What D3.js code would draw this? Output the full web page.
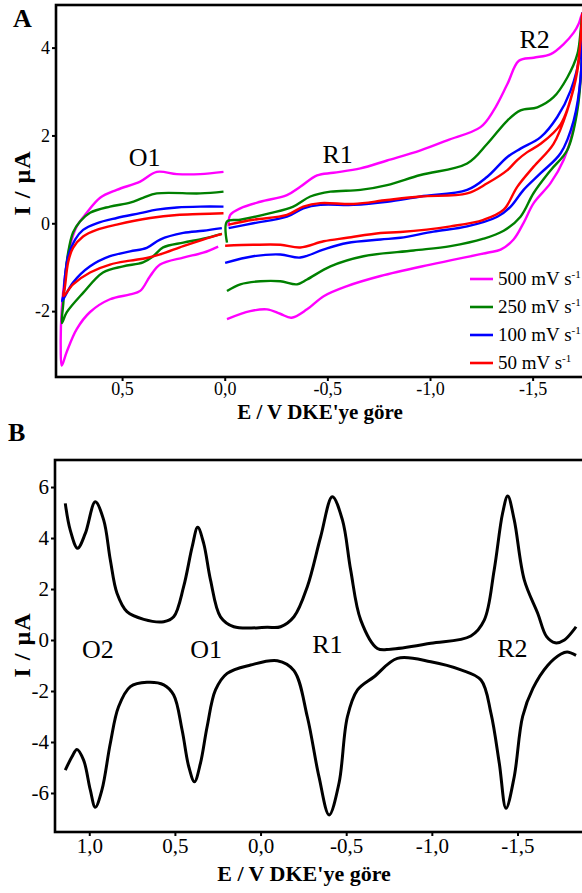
<!DOCTYPE html>
<html>
<head>
<meta charset="utf-8">
<script src="https://cdn.jsdelivr.net/npm/d3@7"></script>
<style>
  body { margin: 0; background: #fff; }
  svg { display: block; }
  text { font-family: "Liberation Serif", "Times New Roman", serif; fill: #000; }
</style>
</head>
<body>
<div id="chart"></div>
<script>
// ---- data (E in V, I in µA) ----
const scanRates = ["500 mV s", "250 mV s", "100 mV s", "50 mV s"];
const rateColors = ["#ff00ff", "#008000", "#0000ff", "#ff0000"];

// panel A, positive-potential scans (upper branch then lower branch)
const m500Pos = [[0.006,1.17],[0.12,1.12],[0.233,1.12],[0.331,1.17],[0.412,0.95],[0.526,0.76],[0.607,0.58],[0.672,0.24],[0.721,-0.07],[0.754,-0.52],[0.778,-1.20],[0.794,-1.96],[0.799,-2.79],[0.794,-3.24],[0.77,-2.93],[0.721,-2.41],[0.656,-2.02],[0.559,-1.73],[0.461,-1.62],[0.412,-1.54],[0.363,-1.20],[0.315,-0.94],[0.202,-0.78],[0.105,-0.67],[0.032,-0.53]];
const g250Pos = [[0.006,0.72],[0.12,0.68],[0.331,0.68],[0.398,0.58],[0.461,0.47],[0.559,0.38],[0.656,0.24],[0.705,0.04],[0.739,-0.21],[0.763,-0.67],[0.778,-1.28],[0.786,-1.80],[0.793,-2.27],[0.77,-2.03],[0.689,-1.58],[0.593,-1.12],[0.495,-0.98],[0.398,-0.89],[0.349,-0.75],[0.3,-0.55],[0.202,-0.44],[0.105,-0.35],[0.014,-0.24]];
const b100Pos = [[0.006,0.38],[0.12,0.38],[0.233,0.36],[0.331,0.31],[0.412,0.23],[0.526,0.12],[0.624,0.0],[0.69,-0.15],[0.729,-0.37],[0.763,-0.75],[0.778,-1.20],[0.785,-1.62],[0.792,-1.77],[0.739,-1.35],[0.656,-0.98],[0.559,-0.75],[0.461,-0.64],[0.38,-0.56],[0.315,-0.37],[0.202,-0.22],[0.105,-0.17],[0.014,-0.11]];
const r50Pos = [[0.006,0.23],[0.12,0.21],[0.233,0.19],[0.363,0.12],[0.526,-0.03],[0.624,-0.15],[0.69,-0.30],[0.739,-0.56],[0.763,-0.89],[0.778,-1.43],[0.786,-1.66],[0.739,-1.39],[0.656,-1.12],[0.559,-0.94],[0.461,-0.85],[0.38,-0.79],[0.315,-0.71],[0.202,-0.52],[0.105,-0.37],[0.014,-0.24]];

// panel A, negative-potential scans (lower branch out, upper branch back)
const m500Neg = [[-0.011,-2.18],[-0.124,-2.0],[-0.206,-1.96],[-0.27,-2.06],[-0.325,-2.15],[-0.401,-1.96],[-0.482,-1.66],[-0.596,-1.43],[-0.759,-1.20],[-1.002,-0.94],[-1.279,-0.67],[-1.344,-0.60],[-1.407,-0.37],[-1.456,0.01],[-1.505,0.46],[-1.588,0.92],[-1.651,1.44],[-1.70,2.19],[-1.734,3.32],[-1.742,4.78],[-1.725,4.55],[-1.70,4.34],[-1.651,4.08],[-1.588,3.85],[-1.505,3.77],[-1.433,3.70],[-1.377,3.17],[-1.31,2.57],[-1.246,2.19],[-1.084,1.89],[-0.954,1.66],[-0.791,1.43],[-0.661,1.25],[-0.529,1.15],[-0.45,1.09],[-0.368,0.83],[-0.303,0.64],[-0.173,0.49],[-0.076,0.34],[-0.027,0.19],[-0.019,-0.07]];
const g250Neg = [[-0.011,-1.54],[-0.076,-1.39],[-0.173,-1.32],[-0.271,-1.32],[-0.352,-1.39],[-0.401,-1.28],[-0.515,-0.98],[-0.676,-0.75],[-0.92,-0.62],[-1.1,-0.52],[-1.261,-0.35],[-1.359,-0.17],[-1.441,0.15],[-1.505,0.69],[-1.588,1.21],[-1.669,1.67],[-1.718,2.57],[-1.738,3.6],[-1.742,4.78],[-1.735,4.45],[-1.718,3.85],[-1.669,3.32],[-1.602,2.87],[-1.523,2.64],[-1.441,2.57],[-1.377,2.34],[-1.279,1.81],[-1.181,1.36],[-0.954,1.10],[-0.791,0.87],[-0.661,0.76],[-0.515,0.72],[-0.417,0.61],[-0.334,0.38],[-0.222,0.23],[-0.076,0.08],[-0.011,0.04],[-0.011,-0.44]];
const b100Neg = [[-0.002,-0.90],[-0.139,-0.75],[-0.271,-0.71],[-0.368,-0.78],[-0.48,-0.60],[-0.596,-0.45],[-0.759,-0.37],[-0.856,-0.33],[-1.017,-0.19],[-1.181,-0.07],[-1.328,0.15],[-1.393,0.38],[-1.456,0.76],[-1.539,1.14],[-1.637,1.60],[-1.70,2.34],[-1.734,3.32],[-1.742,4.78],[-1.734,3.93],[-1.685,3.02],[-1.62,2.42],[-1.539,1.96],[-1.441,1.70],[-1.377,1.51],[-1.279,1.06],[-1.181,0.76],[-0.954,0.61],[-0.791,0.49],[-0.627,0.42],[-0.466,0.42],[-0.383,0.34],[-0.303,0.15],[-0.139,0.0],[-0.019,-0.11]];
const r50Neg = [[-0.002,-0.51],[-0.139,-0.49],[-0.271,-0.49],[-0.368,-0.55],[-0.482,-0.41],[-0.596,-0.33],[-0.759,-0.22],[-0.856,-0.20],[-1.1,-0.07],[-1.261,0.08],[-1.359,0.31],[-1.425,0.83],[-1.505,1.29],[-1.602,1.81],[-1.669,2.57],[-1.718,3.47],[-1.742,4.78],[-1.735,4.2],[-1.70,3.09],[-1.637,2.26],[-1.539,1.81],[-1.474,1.62],[-1.425,1.44],[-1.377,1.21],[-1.279,0.91],[-1.181,0.68],[-0.954,0.61],[-0.791,0.53],[-0.627,0.44],[-0.466,0.46],[-0.383,0.38],[-0.303,0.19],[-0.139,0.08],[-0.019,-0.03]];

// panel B, differential curves
const dpvUpper = [[1.14,5.36],[1.111,4.31],[1.068,3.60],[1.023,4.18],[0.965,5.42],[0.916,4.71],[0.877,3.14],[0.838,1.83],[0.78,1.11],[0.682,0.81],[0.565,0.72],[0.507,0.91],[0.449,2.09],[0.399,3.66],[0.367,4.42],[0.332,3.79],[0.292,2.35],[0.234,0.91],[0.156,0.52],[-0.039,0.50],[-0.117,0.52],[-0.195,0.91],[-0.273,2.09],[-0.351,4.05],[-0.419,5.62],[-0.478,4.71],[-0.526,2.75],[-0.585,0.78],[-0.682,-0.33],[-0.76,-0.36],[-0.994,-0.13],[-1.228,0.16],[-1.306,0.78],[-1.364,2.75],[-1.413,4.97],[-1.443,5.65],[-1.481,4.71],[-1.54,2.35],[-1.618,1.05],[-1.67,0.13],[-1.72,-0.11],[-1.774,0.0],[-1.842,0.52]];
const dpvLower = [[1.14,-5.10],[1.101,-4.58],[1.072,-4.29],[1.033,-4.71],[0.994,-5.88],[0.965,-6.56],[0.926,-5.88],[0.877,-4.05],[0.829,-2.62],[0.76,-1.83],[0.663,-1.66],[0.565,-1.76],[0.507,-2.16],[0.458,-3.53],[0.419,-4.97],[0.386,-5.56],[0.351,-4.84],[0.312,-3.40],[0.263,-1.96],[0.195,-1.31],[0.058,-0.98],[-0.098,-0.81],[-0.195,-1.2],[-0.273,-3.01],[-0.341,-5.36],[-0.4,-6.86],[-0.458,-5.62],[-0.507,-3.01],[-0.566,-1.96],[-0.663,-1.44],[-0.799,-0.72],[-0.994,-0.85],[-1.17,-1.17],[-1.287,-1.57],[-1.345,-2.87],[-1.394,-4.84],[-1.433,-6.6],[-1.481,-5.36],[-1.53,-3.0],[-1.59,-1.9],[-1.676,-1.0],[-1.754,-0.55],[-1.79,-0.47],[-1.842,-0.6]];

const xTicksA = [0.5, 0, -0.5, -1, -1.5];
const yTicksA = [-2, 0, 2, 4];
const xTicksB = [1, 0.5, 0, -0.5, -1, -1.5];
const yTicksB = [-6, -4, -2, 0, 2, 4, 6];
const peakLabelsA = [{t: "O1", e: 0.39, i: 1.3}, {t: "R1", e: -0.55, i: 1.37}, {t: "R2", e: -1.51, i: 3.99}];
const peakLabelsB = [{t: "O2", e: 0.95, i: -0.71}, {t: "O1", e: 0.318, i: -0.71}, {t: "R1", e: -0.39, i: -0.52}, {t: "R2", e: -1.47, i: -0.67}];

// ---- drawing ----
const width = 582, height = 893;
const svg = d3.select("#chart").append("svg").attr("width", width).attr("height", height);

const fmtLocale = d3.formatLocale({decimal: ",", thousands: ".", grouping: [3], currency: ["", ""], minus: "-"});
const fmtE = fmtLocale.format(".1f");
const fmtI = fmtLocale.format("d");

function drawPanel(opts) {
  const { left, top, bottom, right, xDomain, yDomain, xTicks, yTicks, fontSize, xPad, id } = opts;
  const x = d3.scaleLinear().domain(xDomain).range([left, right]);
  const y = d3.scaleLinear().domain(yDomain).range([bottom, top]);

  svg.append("clipPath").attr("id", id)
    .append("rect").attr("x", left).attr("y", top).attr("width", right - left).attr("height", bottom - top);

  const gx = svg.append("g").attr("transform", `translate(0,${bottom})`)
    .call(d3.axisBottom(x).tickValues(xTicks).tickFormat(fmtE).tickSize(4).tickSizeOuter(0).tickPadding(xPad));
  const gy = svg.append("g").attr("transform", `translate(${left},0)`)
    .call(d3.axisLeft(y).tickValues(yTicks).tickFormat(fmtI).tickSize(4).tickSizeOuter(0).tickPadding(2));
  [gx, gy].forEach(g => {
    g.select(".domain").remove();
    g.selectAll(".tick line").attr("stroke", "#000").attr("stroke-width", 2);
    g.selectAll(".tick text").attr("font-family", "Liberation Serif, serif").attr("font-size", fontSize).attr("fill", "#000");
  });

  svg.append("rect")
    .attr("x", left).attr("y", top).attr("width", right - left).attr("height", bottom - top)
    .attr("fill", "none").attr("stroke", "#000").attr("stroke-width", 2.6);

  return { x, y };
}

const line = (x, y) => d3.line().x(d => x(d[0])).y(d => y(d[1])).curve(d3.curveCatmullRom.alpha(0.5));

// Panel A
const A = drawPanel({ id: "clipA", left: 56, top: 5, bottom: 377, right: 586,
  xDomain: [0.822, -1.76], yDomain: [-3.5, 4.97], xTicks: xTicksA, yTicks: yTicksA, fontSize: 18, xPad: 1 });

const scansA = [[m500Pos, m500Neg], [g250Pos, g250Neg], [b100Pos, b100Neg], [r50Pos, r50Neg]];
const gA = svg.append("g").attr("clip-path", "url(#clipA)");
scansA.forEach((pair, k) => {
  pair.forEach(arr => {
    gA.append("path").datum(arr)
      .attr("d", line(A.x, A.y))
      .attr("fill", "none").attr("stroke", rateColors[k]).attr("stroke-width", 2.4)
      .attr("stroke-linejoin", "round");
  });
});

svg.append("g").selectAll("text").data(peakLabelsA).join("text")
  .attr("x", d => A.x(d.e)).attr("y", d => A.y(d.i))
  .attr("text-anchor", "middle").attr("font-size", 26).text(d => d.t);

const legend = svg.append("g").attr("transform", "translate(470,279)");
scanRates.forEach((s, k) => {
  const row = legend.append("g").attr("transform", `translate(0,${k * 28})`);
  row.append("line").attr("x1", 0).attr("x2", 23).attr("y1", 0).attr("y2", 0)
    .attr("stroke", rateColors[k]).attr("stroke-width", 2.6);
  const t = row.append("text").attr("x", 28).attr("y", 6).attr("font-size", 19).text(s);
  t.append("tspan").attr("dy", -7).attr("font-size", 11).text("-1");
});

svg.append("text").attr("x", 13).attr("y", 27).attr("font-size", 26).attr("font-weight", "bold").text("A");
svg.append("text").attr("transform", "translate(30,183) rotate(-90)")
  .attr("text-anchor", "middle").attr("font-size", 24).attr("font-weight", "bold")
  .attr("letter-spacing", 1).text("I / µA");
svg.append("text").attr("x", 320).attr("y", 419)
  .attr("text-anchor", "middle").attr("font-size", 21).attr("font-weight", "bold").text("E / V DKE'ye göre");

// Panel B
const B = drawPanel({ id: "clipB", left: 55, top: 460, bottom: 832, right: 586,
  xDomain: [1.2, -1.9], yDomain: [-7.53, 7.06], xTicks: xTicksB, yTicks: yTicksB, fontSize: 21, xPad: 2 });

const gB = svg.append("g").attr("clip-path", "url(#clipB)");
[dpvUpper, dpvLower].forEach(arr => {
  gB.append("path").datum(arr)
    .attr("d", line(B.x, B.y))
    .attr("fill", "none").attr("stroke", "#000").attr("stroke-width", 3)
    .attr("stroke-linejoin", "round");
});

svg.append("g").selectAll("text").data(peakLabelsB).join("text")
  .attr("x", d => B.x(d.e)).attr("y", d => B.y(d.i))
  .attr("text-anchor", "middle").attr("font-size", 26).text(d => d.t);

svg.append("text").attr("x", 8).attr("y", 441).attr("font-size", 26).attr("font-weight", "bold").text("B");
svg.append("text").attr("transform", "translate(30,645) rotate(-90)")
  .attr("text-anchor", "middle").attr("font-size", 24).attr("font-weight", "bold")
  .attr("letter-spacing", 1).text("I / µA");
svg.append("text").attr("x", 304).attr("y", 881)
  .attr("text-anchor", "middle").attr("font-size", 22).attr("font-weight", "bold").text("E / V DKE'ye göre");
</script>
</body>
</html>
